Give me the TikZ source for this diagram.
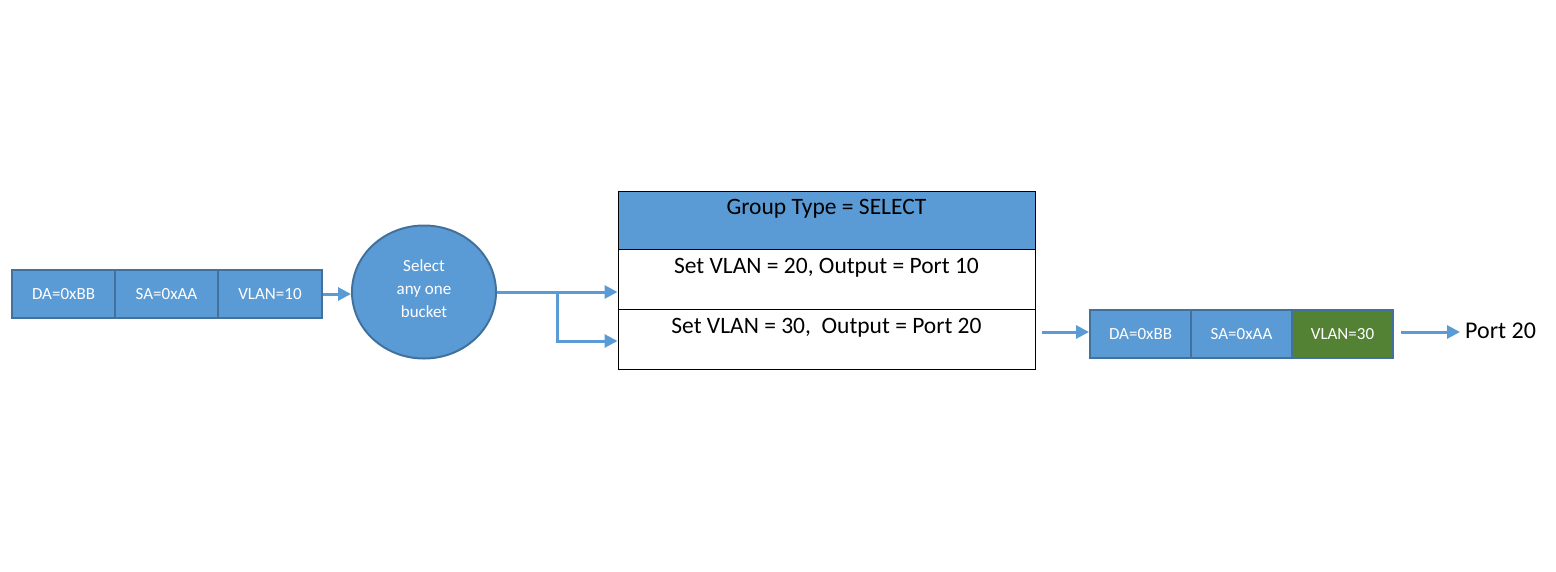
\documentclass[tikz,border=0pt]{standalone}
\usepackage{fontspec}
\setmainfont{Carlito}
\usetikzlibrary{arrows.meta,shapes.geometric}
\definecolor{pblue}{HTML}{5B9BD5}
\definecolor{pborder}{HTML}{41719C}
\definecolor{pgreen}{HTML}{548235}
\begin{document}
\begin{tikzpicture}[x=1pt,y=-1pt,
  field/.style={draw=pborder, line width=2pt, fill=pblue, text=white, minimum height=48pt, inner sep=0pt, font=\fontsize{17}{20}\selectfont},
  cell/.style={draw=black, line width=1pt, minimum width=417pt, inner sep=0pt},
  celltext/.style={font=\fontsize{23.5}{26}\selectfont, inner sep=0pt},
  arr/.style={draw=pblue, line width=3pt, -{Triangle[length=13pt,width=13pt]}},
  ln/.style={draw=pblue, line width=3pt}]
\useasboundingbox (0,0) rectangle (1556,571);
% left packet
\node[field, minimum width=103pt] (f1) at (63.5,294) {DA=0xBB};
\node[field, minimum width=103pt] (f2) at (166.5,294) {SA=0xAA};
\node[field, minimum width=104pt] (f3) at (270,294) {VLAN=10};
% circle
\node[ellipse, draw=pborder, line width=2pt, fill=pblue, text=white, minimum width=144pt, minimum height=133pt, inner sep=0pt] (c) at (424,292) {};
\node[text=white, align=center, inner sep=0pt, font=\fontsize{17}{23}\selectfont] (ct) at (424,289) {Select\\any one\\bucket};
% table
\node[cell, fill=pblue, minimum height=58pt] (h) at (826.5,220) {};
\node[cell, minimum height=60pt] (r1) at (826.5,279) {};
\node[cell, minimum height=60pt] (r2) at (826.5,339) {};
\node[celltext] (ht) at (826.5,208.5) {Group Type = SELECT};
\node[celltext] (r1t) at (826.5,267.5) {Set VLAN = 20, Output = Port 10};
\node[celltext] (r2t) at (826.5,327.5) {Set VLAN = 30,\ \ Output = Port 20};
% right packet
\node[field, minimum width=101pt] (g1) at (1140.5,334) {DA=0xBB};
\node[field, minimum width=101pt] (g2) at (1241.5,334) {SA=0xAA};
\node[field, minimum width=101pt, fill=pgreen] (g3) at (1342.5,334) {VLAN=30};
\node[font=\fontsize{24}{28}\selectfont, inner sep=0pt, anchor=west] (port) at (1465,331) {Port 20};
% connectors
\coordinate (split) at (557,292);
\coordinate (in2) at (r2.west |- 0,341);
\coordinate (out1) at (1042,332);
\coordinate (out2) at (1401,332);
\draw[arr] (f3.east) -- (f3.east -| c.west);
\draw[ln] (c.east) -- (split);
\draw[arr] (split) -- (r1.west |- split);
\draw[arr] (split) |- (in2);
\draw[arr] (out1) -- (g1.west |- out1);
\draw[arr] (out2) -- ([xshift=-5pt]out2 -| port.west);
\end{tikzpicture}
\end{document}
